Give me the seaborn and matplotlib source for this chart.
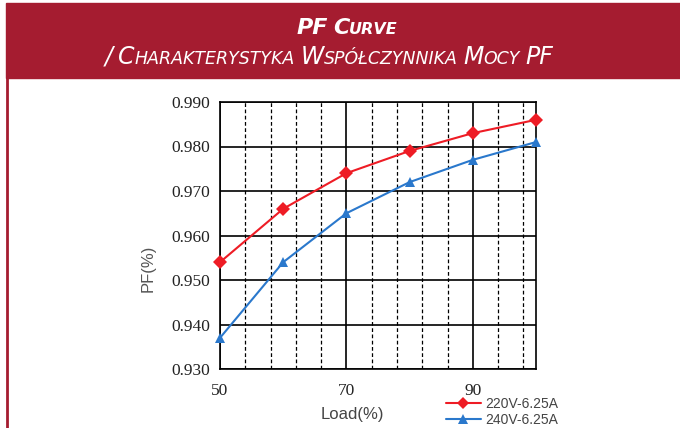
import seaborn as sns
import matplotlib.pyplot as plt
import matplotlib.patches as mpatches
import matplotlib.lines as mlines
from matplotlib.ticker import MultipleLocator, FixedLocator
import pandas as pd

# data
load = [50, 60, 70, 80, 90, 100]
pf_220 = [0.954, 0.966, 0.974, 0.979, 0.983, 0.986]
pf_240 = [0.937, 0.954, 0.965, 0.972, 0.977, 0.981]
series_names = ["220V-6.25A", "240V-6.25A"]
y_ticks = [0.930, 0.940, 0.950, 0.960, 0.970, 0.980, 0.990]
x_ticks = [50, 70, 90]

df = pd.DataFrame({
    "load": load * 2,
    "pf": pf_220 + pf_240,
    "series": [series_names[0]] * len(load) + [series_names[1]] * len(load),
})

sns.set_style("white")
plt.rcParams["font.family"] = ["DejaVu Sans"]

W, H = 680, 428
fig = plt.figure(figsize=(W / 100, H / 100), dpi=100)
banner_red = "#A51C30"

# header banner + left border line
fig.patches.append(mpatches.Rectangle((6 / W, 1 - 78 / H), 1, 75 / H,
                                      transform=fig.transFigure, color=banner_red, zorder=0))
fig.lines.append(mlines.Line2D([6.5 / W, 6.5 / W], [0, 1 - 78 / H], transform=fig.transFigure,
                               color=banner_red, lw=2))

ax = fig.add_axes([220 / W, 1 - 369 / H, 316 / W, 267 / H])
sns.lineplot(data=df, x="load", y="pf", hue="series", style="series",
             palette=["#EE1C25", "#2A78CC"], markers=["D", "^"], dashes=False,
             markersize=7.5, markeredgewidth=0, linewidth=1.5, ax=ax, legend=False,
             zorder=5, clip_on=False)

ax.set_xlim(50, 100)
ax.set_ylim(0.930, 0.990)
ax.xaxis.set_major_locator(FixedLocator(x_ticks))
ax.xaxis.set_minor_locator(MultipleLocator(4, offset=2))
ax.yaxis.set_major_locator(FixedLocator(y_ticks))
ax.set_yticklabels([f"{v:.3f}" for v in y_ticks])
ax.set_xticklabels([str(v) for v in x_ticks])
ax.grid(which="major", color="black", lw=1.2, ls="-")
ax.grid(which="minor", axis="x", color="black", lw=0.9, ls=(0, (3, 2)))
ax.tick_params(length=0, labelsize=12.5, colors="#222222")
ax.tick_params(axis="y", pad=7)
ax.tick_params(axis="x", pad=10)
for lab in ax.get_xticklabels() + ax.get_yticklabels():
    lab.set_family("Liberation Serif")
for sp in ax.spines.values():
    sp.set_color("black")
    sp.set_linewidth(1.2)

ax.set_xlabel("")
ax.set_ylabel("")
fig.text(148 / W, 1 - 268 / H, "PF(%)", rotation=90, ha="center", va="center",
         fontsize=12, color="#555555", family="Liberation Sans")
fig.text(352 / W, 1 - 415 / H, "Load(%)", ha="center", va="center",
         fontsize=12, color="#444444", family="Liberation Sans")

handles = [
    mlines.Line2D([], [], color="#EE1C25", marker="D", markersize=6, markeredgewidth=0, lw=1.5),
    mlines.Line2D([], [], color="#2A78CC", marker="^", markersize=7, markeredgewidth=0, lw=1.5),
]
fig.legend(handles, series_names, loc="upper left", bbox_to_anchor=(439 / W, 1 - 390 / H),
           frameon=False, handlelength=2.5, handletextpad=0.3, labelspacing=0.12,
           prop={"family": "Liberation Sans", "size": 10}, labelcolor="#444444",
           borderpad=0)


# small-caps title lines, built piece by piece
def small_caps(text, y_px, cx_px, big, small, **kw):
    pieces = []
    for word in text.split(" "):
        if word.isupper() or not word[0].isalpha():
            pieces.append((word, big))
        else:
            pieces.append((word[0], big))
            pieces.append((word[1:].upper(), small))
        pieces.append((None, big))
    pieces = pieces[:-1]
    renderer = fig.canvas.get_renderer()
    objs = []
    total = 0
    for s, size in pieces:
        if s is None:
            objs.append((None, size * 0.33))
            total += size * 0.33
            continue
        t = fig.text(0, 1 - y_px / H, s, fontsize=size, color="white", va="baseline", ha="left", **kw)
        w = t.get_window_extent(renderer).width
        objs.append((t, w))
        total += w
    x = cx_px - total / 2
    for t, w in objs:
        if t is not None:
            t.set_x(x / W)
        x += w


small_caps("PF Curve", 34, 347, 16, 11.5, style="italic", weight="bold")
small_caps("/ Charakterystyka Współczynnika Mocy PF", 64, 329, 17, 12.5, style="italic")

fig.savefig("out.png", dpi=100)
